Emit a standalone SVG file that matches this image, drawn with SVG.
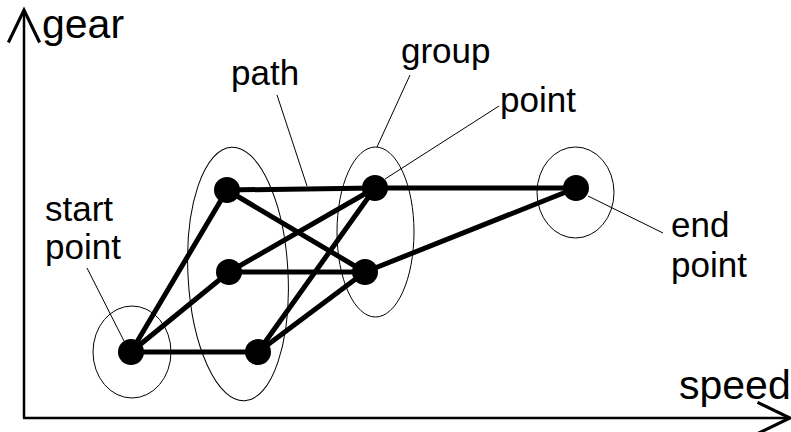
<svg xmlns="http://www.w3.org/2000/svg" width="791" height="432" viewBox="0 0 791 432">
<style>
.axis{stroke:#000;stroke-width:2.5;fill:none}
.edge{stroke:#000;stroke-width:5;stroke-linecap:round}
.ring{fill:none;stroke:#000;stroke-width:1}
.lead{stroke:#000;stroke-width:1}
.pt{fill:#000}
text{font-family:"Liberation Sans",Arial,sans-serif;fill:#000}
.lbl{font-size:35px}
.ax{font-size:41px}
</style>
<defs>
<marker id="arr" markerUnits="userSpaceOnUse" markerWidth="40" markerHeight="40" viewBox="-30 -15 32 30" refX="0" refY="0" orient="auto" overflow="visible">
<path d="M-26,-12.5 L0,0 L-26,12.5" fill="none" stroke="#000" stroke-width="2.5"/>
</marker>
</defs>
<g id="axes">
<path class="axis" d="M24,418 L24,10" marker-end="url(#arr)"/>
<path class="axis" d="M23,418 L790,418" marker-end="url(#arr)"/>
<text class="ax" x="42" y="38">gear</text>
<text class="ax" x="679" y="399">speed</text>
</g>
<g id="groups">
<ellipse id="start-ring" class="ring" cx="132" cy="352" rx="39" ry="46"/>
<ellipse id="group-left" class="ring" cx="238" cy="274" rx="50" ry="127" transform="rotate(-3 238 274)"/>
<ellipse id="group-mid" class="ring" cx="375.5" cy="232" rx="38.5" ry="85"/>
<ellipse id="end-ring" class="ring" cx="575.5" cy="192.5" rx="38.5" ry="45.5"/>
</g>
<g id="connectors">
<line class="edge" x1="131" y1="352" x2="227" y2="190"/>
<line class="edge" x1="131" y1="352" x2="229" y2="272"/>
<line class="edge" x1="131" y1="352" x2="258" y2="352"/>
<line class="edge" x1="227" y1="190" x2="375" y2="188"/>
<line class="edge" x1="227" y1="190" x2="365" y2="272"/>
<line class="edge" x1="229" y1="272" x2="375" y2="188"/>
<line class="edge" x1="229" y1="272" x2="365" y2="272"/>
<line class="edge" x1="258" y1="352" x2="375" y2="188"/>
<line class="edge" x1="258" y1="352" x2="365" y2="272"/>
<line class="edge" x1="375" y1="188" x2="576" y2="188"/>
<line class="edge" x1="365" y1="272" x2="576" y2="188"/>
</g>
<g id="leaders">
<line class="lead" x1="87" y1="268" x2="124" y2="341"/>
<line class="lead" x1="277" y1="95" x2="307" y2="186"/>
<line class="lead" x1="410" y1="75" x2="377" y2="147"/>
<line class="lead" x1="499" y1="106" x2="385" y2="179"/>
<line class="lead" x1="588" y1="196" x2="663" y2="233"/>
</g>
<g id="node-start"><circle class="pt" cx="131" cy="352" r="13"/></g>
<g id="node-b"><circle class="pt" cx="227" cy="190" r="13"/></g>
<g id="node-c"><circle class="pt" cx="229" cy="272" r="13"/></g>
<g id="node-d"><circle class="pt" cx="258" cy="352" r="13"/></g>
<g id="node-e"><circle class="pt" cx="375" cy="188" r="13"/></g>
<g id="node-f"><circle class="pt" cx="365" cy="272" r="13"/></g>
<g id="node-end"><circle class="pt" cx="576" cy="188" r="13"/></g>
<g id="labels">
<text class="lbl" x="45" y="221">start</text>
<text class="lbl" x="45" y="259">point</text>
<text class="lbl" x="231" y="85">path</text>
<text class="lbl" x="401" y="63">group</text>
<text class="lbl" x="500" y="112">point</text>
<text class="lbl" x="671" y="237">end</text>
<text class="lbl" x="671" y="277">point</text>
</g>
</svg>
